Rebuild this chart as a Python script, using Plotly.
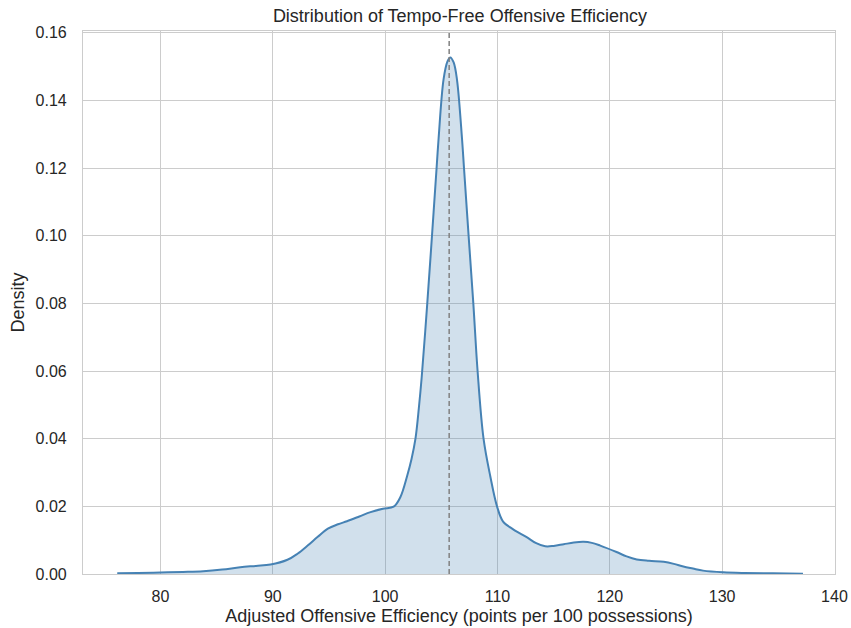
import plotly.graph_objects as go

# KDE curve
x_vals = [76.15, 78.0, 80.0, 82.0, 83.8, 85.5, 87.1, 88.5, 89.8, 91.3, 92.2, 93.1, 94.0, 94.9,
          95.8, 96.6, 97.7, 98.7, 99.8, 100.76, 101.35, 101.95, 102.35, 102.7, 103.0, 103.25,
          103.75, 104.17, 104.58, 104.76, 105.2, 105.55, 105.8, 106.1, 106.4, 106.84,
          107.02, 107.43, 107.85, 108.23, 108.76, 109.36, 109.96, 110.5, 111.4, 112.6,
          113.4, 114.25, 115.0, 115.9, 116.8, 117.66, 118.4, 119.15, 120.6, 121.5, 122.4, 123.5,
          124.8, 125.7, 126.55, 127.4, 128.3, 130.1, 132.0, 134.5, 137.2]
density = [0.0002, 0.0003, 0.00045, 0.0006, 0.0008, 0.0013, 0.0020, 0.0024, 0.0028, 0.0042,
           0.0060, 0.0084, 0.0110, 0.0134, 0.0147, 0.0156, 0.0170, 0.0183, 0.0193, 0.0199,
           0.0227, 0.0289, 0.034, 0.040, 0.049, 0.058, 0.080, 0.100, 0.120, 0.1288,
           0.1462, 0.1515, 0.1527, 0.1512, 0.146, 0.1288, 0.120, 0.100, 0.080, 0.060,
           0.040, 0.0289, 0.020, 0.0155, 0.0132, 0.0109, 0.0092, 0.0082, 0.0083, 0.0088, 0.0093,
           0.0095, 0.0092, 0.0084, 0.0065, 0.0052, 0.0043, 0.0039, 0.0036, 0.0030, 0.0022,
           0.0016, 0.0010, 0.0005, 0.0003, 0.0002, 0.0001]
ref_line_x = [105.7]
x_ticks = [80, 90, 100, 110, 120, 130, 140]
y_ticks = [0.00, 0.02, 0.04, 0.06, 0.08, 0.10, 0.12, 0.14, 0.16]

FONT = "Liberation Sans, Arial, sans-serif"
TXT = "#262626"
GRID = "#cccccc"

fig = go.Figure()
fig.add_trace(go.Scatter(
    x=x_vals, y=density, mode="lines",
    line=dict(color="#4682B4", width=2, shape="spline", smoothing=1.0),
    fill="tozeroy", fillcolor="rgba(70,130,180,0.25)",
    hoverinfo="skip", showlegend=False,
))
for xv in ref_line_x:
    fig.add_shape(type="line", xref="x", yref="paper", x0=xv, x1=xv, y0=0, y1=1,
                  line=dict(color="#808080", width=1.5, dash="5px,3px"))

fig.update_layout(
    width=851, height=628,
    margin=dict(l=83, r=16, t=31, b=54, pad=0),
    paper_bgcolor="white", plot_bgcolor="white",
    font=dict(family=FONT, color=TXT, size=16),
    title=dict(text="Distribution of Tempo-Free Offensive Efficiency",
               x=0.5405, xanchor="center", y=0.975, yanchor="middle",
               font=dict(size=18, color=TXT, family=FONT)),
)
fig.update_xaxes(
    range=[73.1, 140.05], tickvals=x_ticks, ticktext=[str(t) for t in x_ticks],
    showgrid=True, gridcolor=GRID, gridwidth=1,
    showline=True, linecolor=GRID, linewidth=1.25, mirror=True,
    ticks="outside", ticklen=8, tickcolor="rgba(0,0,0,0)",
    tickfont=dict(size=16, color=TXT, family=FONT),
    title=dict(text="Adjusted Offensive Efficiency (points per 100 possessions)",
               font=dict(size=18, color=TXT, family=FONT), standoff=5),
    zeroline=False, automargin=False,
)
fig.update_yaxes(
    range=[0, 0.1605], tickvals=y_ticks, ticktext=[f"{t:.2f}" for t in y_ticks],
    showgrid=True, gridcolor=GRID, gridwidth=1,
    showline=True, linecolor=GRID, linewidth=1.25, mirror=True,
    ticks="outside", ticklen=12, tickcolor="rgba(0,0,0,0)",
    tickfont=dict(size=16, color=TXT, family=FONT),
    title=dict(text="Density", font=dict(size=18, color=TXT, family=FONT), standoff=6),
    zeroline=False, automargin=False,
)
fig.write_html("out.html")
